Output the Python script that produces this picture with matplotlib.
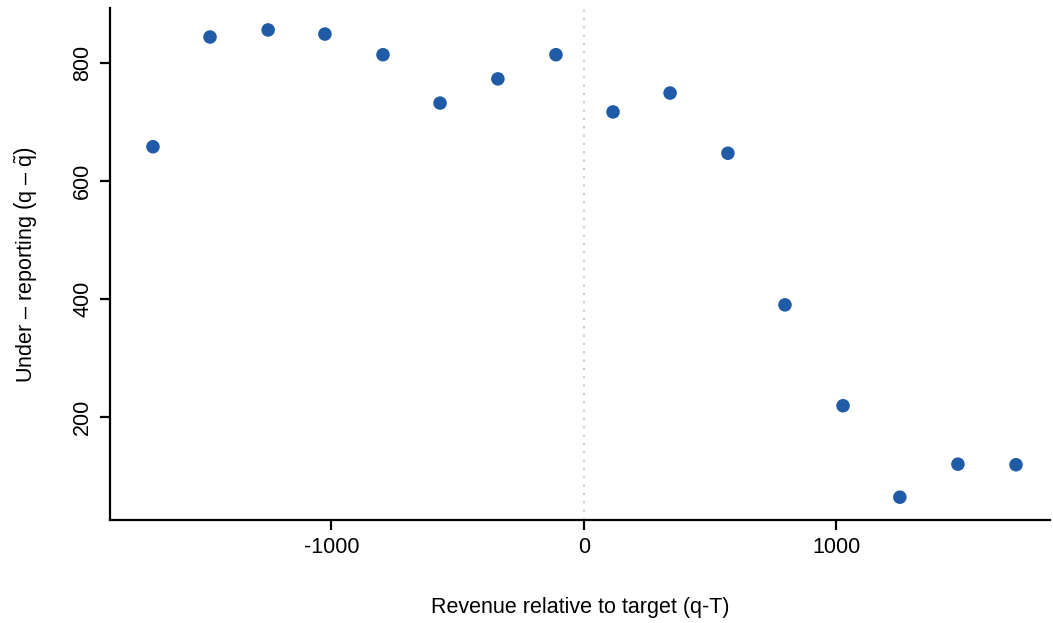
import numpy as np
import matplotlib.pyplot as plt

plt.rcParams['font.family'] = ['Liberation Sans', 'DejaVu Sans']
plt.rcParams['mathtext.fontset'] = 'custom'
plt.rcParams['mathtext.rm'] = 'Liberation Sans'
plt.rcParams['mathtext.it'] = 'Liberation Sans'
plt.rcParams['axes.unicode_minus'] = False

# bin centres of revenue relative to target, and mean under-reporting
revenue = [-1707, -1481, -1251, -1026, -796, -570, -341, -111,
           115, 341, 570, 796, 1026, 1251, 1481, 1711]
under_reporting = [658, 844, 856, 849, 814, 732, 773, 814,
                   717, 749, 647, 390, 219, 64, 120, 119]

fig = plt.figure(figsize=(10.53, 6.23), dpi=100)
ax = fig.add_axes([0.1045, 0.165, 0.8925, 0.822])

ax.axvline(0, color='#c8c8c8', linestyle=(0, (1, 3)), linewidth=1.5, zorder=1)
ax.scatter(revenue, under_reporting, s=95, color='#1f5ba6', edgecolors='none', zorder=3)

ax.set_xlim(-1877, 1845)
ax.set_ylim(25, 893)
ax.set_xticks([-1000, 0, 1000])
ax.set_yticks([200, 400, 600, 800])
for lab in ax.get_yticklabels():
    lab.set_rotation(90)
    lab.set_va('center')

ax.spines['top'].set_visible(False)
ax.spines['right'].set_visible(False)
ax.spines['left'].set_linewidth(1.6)
ax.spines['bottom'].set_linewidth(1.6)
ax.tick_params(width=1.6, length=7, labelsize=15.5, pad=5)

ax.set_xlabel('Revenue relative to target (q-T)', fontsize=15.5, labelpad=28)
ax.set_ylabel(r'Under $\endash$ reporting $\left(\mathrm{q}\ \endash\ \tilde{\mathrm{q}}\right)$',
              fontsize=15.5, labelpad=24)

fig.savefig('out.png', dpi=100)
